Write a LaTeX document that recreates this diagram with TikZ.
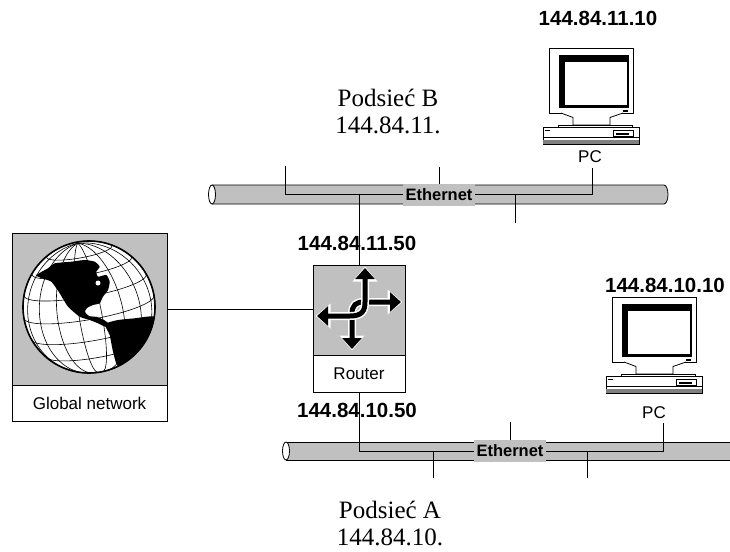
\documentclass[tikz,border=0pt]{standalone}
\usepackage{fontspec}
\setmainfont{Liberation Serif}
\setsansfont{Liberation Sans}
\usetikzlibrary{arrows.meta}
\definecolor{netgray}{RGB}{192,192,192}

\begin{document}
\begin{tikzpicture}[x=1pt,y=-1pt,line width=0.8pt,
  grayblock/.style={draw,fill=netgray,line width=1pt,inner sep=0,outer sep=0},
  nameblock/.style={draw,fill=white,line width=1pt,inner sep=0,outer sep=0,font=\sffamily\fontsize{17}{17}\selectfont},
  ipaddr/.style={font=\sffamily\bfseries\fontsize{20.5}{21}\selectfont,inner sep=0},
  subnet/.style={font=\fontsize{25}{27}\selectfont,align=center,inner sep=0},
  pcname/.style={font=\sffamily\fontsize{17}{17}\selectfont,inner sep=0},
  ether/.style={fill=netgray,font=\sffamily\bfseries\fontsize{16.5}{17}\selectfont,inner sep=0,outer sep=0,minimum width=72pt,minimum height=22pt},
  cable/.style={draw,fill=netgray},
  rbg/.style={white,line width=8pt,{Triangle[width=24pt,length=15pt]}-{Triangle[width=24pt,length=15pt]},shorten <=-1.5pt,shorten >=-1.5pt},
  rfg/.style={black,line width=5pt,{Triangle[width=19pt,length=11pt]}-{Triangle[width=19pt,length=11pt]}}]
\def\rg{66}
\def\tilt{11}

\useasboundingbox (0,0) rectangle (730,551);

% cables
\draw[cable] (212,185) -- (664,185) arc[start angle=-90,end angle=90,x radius=4,y radius=9.5] -- (212,204);
\draw[fill=white] (212,194.5) ellipse[x radius=3.5,y radius=9.5];
\fill[netgray] (286,442) rectangle (730,460);
\draw (286,442) -- (730,442) (286,460) -- (730,460);
\draw[fill=white] (286,451) ellipse[x radius=3.5,y radius=9];

\node[ether] (ethB) at (439,194.5) {Ethernet};
\node[ether] (ethA) at (510,451) {Ethernet};

% global network
\node[grayblock,minimum width=155pt,minimum height=152pt] (globe) at (89.5,309) {};
\node[nameblock,minimum width=155pt,minimum height=36pt,anchor=north] (gnet) at (globe.south) {Global network};

\begin{scope}[shift={(89,307)}]
  \draw[fill=white] (0,0) circle (\rg);
  \begin{scope}
    \clip (0,0) circle (\rg);
    \begin{scope}[y=1pt,rotate=10,line width=0.6pt]
      \foreach \lat in {-40,-20,0,20,40,60} {
        \pgfmathsetmacro\lmax{acos(max(-1,min(1,-tan(\lat)*tan(\tilt))))}
        \draw plot[domain=-\lmax:\lmax,samples=30,smooth,variable=\lam]
          ({\rg*cos(\lat)*sin(\lam)},{\rg*(sin(\lat)*cos(\tilt)-cos(\lat)*cos(\lam)*sin(\tilt))});
      }
      \foreach \lon in {-70,-50,-30,-10,10,30,50,70} {
        \pgfmathsetmacro\pmin{atan(-cos(\lon)/tan(\tilt))}
        \draw plot[domain=\pmin:90,samples=30,smooth,variable=\ph]
          ({\rg*cos(\ph)*sin(\lon)},{\rg*(sin(\ph)*cos(\tilt)-cos(\ph)*cos(\lon)*sin(\tilt))});
      }
    \end{scope}
    % north and south america
    \fill plot[smooth cycle,tension=0.35] coordinates {(-52.7,-32) (-41,-38.7) (-34.3,-43.7) (-17.7,-45.3)
      (-4.3,-47) (5.7,-45.3) (10.7,-40.3) (7.3,-35.3) (9,-30.3) (17.3,-32) (20.7,-25.3) (19,-17)
      (14,-10.3) (10.7,-3.7) (4,-2) (-2,1) (-4,5) (0,9) (8,10) (15,13) (20,17) (17,20) (9,16.3)
      (0.7,13) (-9.3,9.7) (-21,-0.3) (-29.3,-13.7) (-37.7,-25.3) (-48,-29)};
    \fill[white] (9,-24) circle (2.5);
    \fill plot[smooth cycle,tension=0.35] coordinates {(17.3,16.3) (29,13) (45.7,11.3) (66,9.7) (75,25)
      (60,45) (42.3,54.7) (29,59.7) (24,44.7) (20.7,28) (17.3,21.3)};
  \end{scope}
  \draw[line width=1.6pt] (0,0) circle (\rg);
\end{scope}

% router
\node[grayblock,minimum width=92pt,minimum height=90pt] (rticon) at (359,310) {};
\node[nameblock,minimum width=92pt,minimum height=37pt,anchor=north] (rtname) at (rticon.south) {Router};
\draw[rbg] (352,349) -- (352,314) .. controls (352,305) and (356,302) .. (364,302) -- (401,302);
\draw[rfg] (352,349) -- (352,314) .. controls (352,305) and (356,302) .. (364,302) -- (401,302);
\draw[rbg] (317,316) -- (350,316) .. controls (362,316) and (365,311) .. (365,302) -- (365,268);
\draw[rfg] (317,316) -- (350,316) .. controls (362,316) and (365,311) .. (365,302) -- (365,268);

\draw (globe.east) -- (globe.east -| rticon.west);

% computers
\foreach \px/\py in {549/48,612/297} {
  \begin{scope}[shift={(\px,\py)}]
    \draw[fill=white] (0,0) rectangle (84,65);
    \fill (10,7) rectangle (80,59.5);
    \fill[white] (15.5,13.5) rectangle (77.5,57);
    \fill (74,61.5) rectangle (78.5,63.5);
    \draw[fill=white] (12,65) -- (24,69.5) -- (24,77) -- (61,77) -- (61,69.5) -- (74,65);
    \draw[fill=white] (9.5,77) rectangle (83,79.5);
    \draw[fill=white] (-6,79.5) rectangle (90,96);
    \draw (-6,89) -- (90,89);
    \fill[gray] (-6,92) rectangle (90,96);
    \fill (-4,81.5) rectangle (1,83);
    \draw[fill=white] (64.5,82.5) rectangle (84.5,88.5);
    \fill (66.5,85) rectangle (80,87);
  \end{scope}
}

\node[ipaddr] (ipB) at (598,18) {144.84.11.10};
\node[ipaddr] (ipA) at (665,285) {144.84.10.10};
\node[pcname] (pcB) at (590,157) {PC};
\node[pcname] (pcA) at (654,413) {PC};
\node[ipaddr] (iprB) at (357,243) {144.84.11.50};
\node[ipaddr] (iprA) at (357,410) {144.84.10.50};
\node[subnet] (subB) at (388,111.5) {Podsieć B\\144.84.11.};
\node[subnet] (subA) at (390,523) {Podsieć A\\144.84.10.};

% taps on subnet B
\coordinate (tapB1) at (285,166);
\coordinate (tapB2) at (439,167);
\coordinate (tapB3) at (515,223);
\coordinate (tapB4) at (592,168);
\draw (tapB1) |- (ethB.west);
\draw (rticon.north) -- (rticon.north |- ethB.west);
\draw (tapB2) -- (ethB.north);
\draw (ethB.east) -| (tapB4);
\draw (tapB3) -- (tapB3 |- ethB.east);

% taps on subnet A
\coordinate (tapA1) at (433,478);
\coordinate (tapA2) at (510,422);
\coordinate (tapA3) at (587,478);
\coordinate (tapA4) at (663,423);
\draw (rtname.south) |- (ethA.west);
\draw (tapA1) -- (tapA1 |- ethA.west);
\draw (tapA2) -- (ethA.north);
\draw (tapA3) -- (tapA3 |- ethA.east);
\draw (ethA.east) -| (tapA4);
\end{tikzpicture}
\end{document}
